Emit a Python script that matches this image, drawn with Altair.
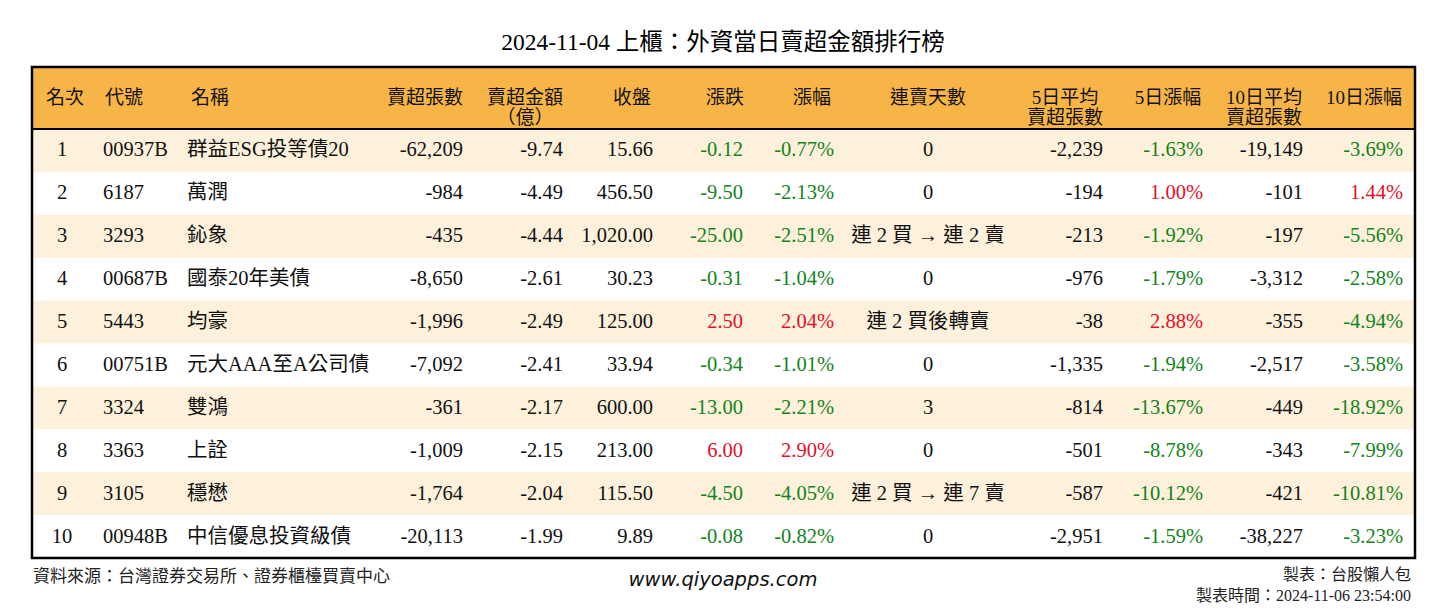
import altair as alt
import pandas as pd

# ---------------- data ----------------
title_text = "2024-11-04 上櫃：外資當日賣超金額排行榜"
headers = ["名次", "代號", "名稱", "賣超張數", "賣超金額\n（億）", "收盤", "漲跌", "漲幅",
           "連賣天數", "5日平均\n賣超張數", "5日漲幅", "10日平均\n賣超張數", "10日漲幅"]
ranks = [1, 2, 3, 4, 5, 6, 7, 8, 9, 10]
codes = ["00937B", "6187", "3293", "00687B", "5443", "00751B", "3324", "3363", "3105", "00948B"]
names = ["群益ESG投等債20", "萬潤", "鈊象", "國泰20年美債", "均豪", "元大AAA至A公司債",
         "雙鴻", "上詮", "穩懋", "中信優息投資級債"]
sell_lots = [-62209, -984, -435, -8650, -1996, -7092, -361, -1009, -1764, -20113]
sell_amt = [-9.74, -4.49, -4.44, -2.61, -2.49, -2.41, -2.17, -2.15, -2.04, -1.99]
close = [15.66, 456.50, 1020.00, 30.23, 125.00, 33.94, 600.00, 213.00, 115.50, 9.89]
change = [-0.12, -9.50, -25.00, -0.31, 2.50, -0.34, -13.00, 6.00, -4.50, -0.08]
pct = [-0.77, -2.13, -2.51, -1.04, 2.04, -1.01, -2.21, 2.90, -4.05, -0.82]
streak = ["0", "0", "連 2 買 → 連 2 賣", "0", "連 2 買後轉賣", "0", "3", "0", "連 2 買 → 連 7 賣", "0"]
avg5 = [-2239, -194, -213, -976, -38, -1335, -814, -501, -587, -2951]
pct5 = [-1.63, 1.00, -1.92, -1.79, 2.88, -1.94, -13.67, -8.78, -10.12, -1.59]
avg10 = [-19149, -101, -197, -3312, -355, -2517, -449, -343, -421, -38227]
pct10 = [-3.69, 1.44, -5.56, -2.58, -4.94, -3.58, -18.92, -7.99, -10.81, -3.23]
source_text = "資料來源：台灣證券交易所、證券櫃檯買賣中心"
site_text = "www.qiyoapps.com"
maker_text = "製表：台股懶人包"
time_text = "製表時間：2024-11-06 23:54:00"

# ---------------- layout (page pixel coordinates) ----------------
W, H = 1430, 596
M = 8
T_LEFT, T_RIGHT, T_TOP, T_BOTTOM = 32, 1415, 67, 558
HEAD_BOTTOM = 129
ROW_H = (T_BOTTOM - HEAD_BOTTOM) / 10
HEAD_Y = 98

# column anchors: (cell x, cell align, header x)
cols = [
    (62, "center", 65),
    (103, "left", 124),
    (187, "left", 210),
    (463, "right", 425),
    (563, "right", 525),
    (653, "right", 632),
    (743, "right", 725),
    (834, "right", 812),
    (928, "center", 928),
    (1103, "right", 1065),
    (1203, "right", 1168),
    (1303, "right", 1264),
    (1403, "right", 1364),
]

GREEN = "#12841a"
RED = "#e3102b"
BLACK = "#111111"


def sign_color(v):
    return RED if v > 0 else (GREEN if v < 0 else BLACK)


cells = []
for i in range(10):
    yc = HEAD_BOTTOM + ROW_H * (i + 0.5) - M
    row = [
        (str(ranks[i]), BLACK),
        (codes[i], BLACK),
        (names[i], BLACK),
        (f"{sell_lots[i]:,}", BLACK),
        (f"{sell_amt[i]:.2f}", BLACK),
        (f"{close[i]:,.2f}", BLACK),
        (f"{change[i]:.2f}", sign_color(change[i])),
        (f"{pct[i]:.2f}%", sign_color(pct[i])),
        (streak[i], BLACK),
        (f"{avg5[i]:,}", BLACK),
        (f"{pct5[i]:.2f}%", sign_color(pct5[i])),
        (f"{avg10[i]:,}", BLACK),
        (f"{pct10[i]:.2f}%", sign_color(pct10[i])),
    ]
    for (txt, colr), (cx, al, hx) in zip(row, cols):
        cells.append({"x": cx - M, "y": yc, "text": txt, "color": colr, "align": al})
cells_df = pd.DataFrame(cells)

head_df = pd.DataFrame([
    {"x": hx - M, "y": HEAD_Y - M, "text": h}
    for h, (cx, al, hx) in zip(headers, cols)
])

rects = [{"x": T_LEFT - M, "x2": T_RIGHT - M, "y": T_TOP - M, "y2": HEAD_BOTTOM - M, "fill": "#f8b547"}]
for i in range(10):
    if i % 2 == 0:
        rects.append({"x": T_LEFT - M, "x2": T_RIGHT - M,
                      "y": HEAD_BOTTOM + ROW_H * i - M, "y2": HEAD_BOTTOM + ROW_H * (i + 1) - M,
                      "fill": "#fdf1dc"})
rects_df = pd.DataFrame(rects)

border_df = pd.DataFrame([{"x": T_LEFT - M, "x2": T_RIGHT - M, "y": T_TOP - M, "y2": T_BOTTOM - M}])
divider_df = pd.DataFrame([{"x": T_LEFT - M, "x2": T_RIGHT - M, "y": HEAD_BOTTOM - M}])

xs = alt.Scale(domain=[0, W], range=[0, W], nice=False, zero=False)
ys = alt.Scale(domain=[0, H], range=[0, H], nice=False, zero=False)
X = lambda f="x": alt.X(f"{f}:Q", scale=xs, axis=None)
Y = lambda f="y": alt.Y(f"{f}:Q", scale=ys, axis=None)

SERIF = "Liberation Serif, Noto Sans CJK TC, serif"

bg = alt.Chart(rects_df).mark_rect().encode(
    x=X(), x2="x2:Q", y=Y(), y2="y2:Q", fill=alt.Fill("fill:N", scale=None))

border = alt.Chart(border_df).mark_rect(fill=None, stroke="#000000", strokeWidth=2.5, filled=False).encode(
    x=X(), x2="x2:Q", y=Y(), y2="y2:Q")

divider = alt.Chart(divider_df).mark_rule(stroke="#000000", strokeWidth=2).encode(
    x=X(), x2="x2:Q", y=Y())

header = alt.Chart(head_df).mark_text(
    font=SERIF, fontSize=19, align="center", baseline="middle", lineBreak="\n", lineHeight=20,
    color="#111111").encode(x=X(), y=Y(), text="text:N")

body_layers = []
for al in ["left", "center", "right"]:
    body_layers.append(
        alt.Chart(cells_df[cells_df["align"] == al]).mark_text(
            font=SERIF, fontSize=20.5, align=al, baseline="middle").encode(
            x=X(), y=Y(), text="text:N", color=alt.Color("color:N", scale=None)))

notes = pd.DataFrame([
    {"x": 723 - M, "y": 43 - M, "text": title_text, "kind": "title"},
    {"x": 33 - M, "y": 577 - M, "text": source_text, "kind": "left"},
    {"x": 1411 - M, "y": 575 - M, "text": maker_text, "kind": "right"},
    {"x": 1411 - M, "y": 596 - M, "text": time_text, "kind": "right"},
    {"x": 723 - M, "y": 580 - M, "text": site_text, "kind": "site"},
])

title = alt.Chart(notes[notes.kind == "title"]).mark_text(
    font=SERIF, fontSize=23.5, align="center", baseline="middle", color="#000000").encode(
    x=X(), y=Y(), text="text:N")
foot_left = alt.Chart(notes[notes.kind == "left"]).mark_text(
    font=SERIF, fontSize=17, align="left", baseline="middle", color="#222222").encode(
    x=X(), y=Y(), text="text:N")
foot_right = alt.Chart(notes[notes.kind == "right"]).mark_text(
    font=SERIF, fontSize=16, align="right", baseline="middle", color="#222222").encode(
    x=X(), y=Y(), text="text:N")
site = alt.Chart(notes[notes.kind == "site"]).mark_text(
    font="DejaVu Sans", fontSize=19.5, fontStyle="italic", align="center", baseline="middle",
    color="#111111").encode(x=X(), y=Y(), text="text:N")

chart = alt.layer(bg, divider, border, header, *body_layers, title, foot_left, foot_right, site).properties(
    width=W, height=H, padding=0, autosize=alt.AutoSizeParams(type="none"),
    background="#ffffff",
).configure_view(stroke=None)

chart.save("out.html", embed_options={"renderer": "svg", "actions": False})
